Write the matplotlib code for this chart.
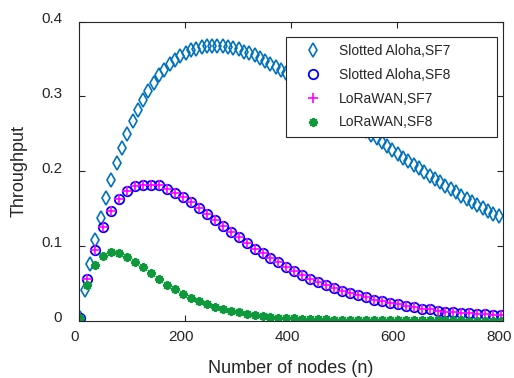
import numpy as np
import matplotlib
matplotlib.use("Agg")
import matplotlib.pyplot as plt
from matplotlib.transforms import ScaledTranslation

plt.rcParams['font.family'] = ['Liberation Sans', 'DejaVu Sans']

# number of nodes (sampling grids of the two curve families)
n_sf7 = np.arange(1, 800, 10)
n_sf8 = np.arange(1, 800, 15)

# Slotted Aloha, SF7
aloha_sf7 = [0.004, 0.041, 0.076, 0.108, 0.137, 0.164, 0.188, 0.211, 0.231, 0.250,
             0.267, 0.282, 0.295, 0.307, 0.318, 0.328, 0.336, 0.343, 0.349, 0.354,
             0.358, 0.362, 0.364, 0.366, 0.367, 0.368, 0.368, 0.367, 0.366, 0.365,
             0.363, 0.360, 0.358, 0.355, 0.351, 0.348, 0.344, 0.340, 0.335, 0.331,
             0.326, 0.322, 0.317, 0.312, 0.307, 0.302, 0.297, 0.291, 0.286, 0.281,
             0.275, 0.270, 0.265, 0.260, 0.254, 0.249, 0.244, 0.239, 0.233, 0.228,
             0.223, 0.218, 0.213, 0.208, 0.204, 0.199, 0.194, 0.190, 0.185, 0.180,
             0.176, 0.172, 0.167, 0.163, 0.159, 0.155, 0.151, 0.147, 0.143, 0.140]

# Slotted Aloha, SF8
aloha_sf8 = [0.004, 0.055, 0.095, 0.125, 0.147, 0.163, 0.174, 0.180, 0.182, 0.182,
             0.181, 0.176, 0.171, 0.165, 0.158, 0.150, 0.143, 0.135, 0.127, 0.119,
             0.112, 0.104, 0.096, 0.090, 0.084, 0.078, 0.072, 0.066, 0.061, 0.056,
             0.052, 0.047, 0.043, 0.040, 0.037, 0.034, 0.031, 0.028, 0.026, 0.024,
             0.022, 0.019, 0.018, 0.016, 0.015, 0.013, 0.012, 0.011, 0.010, 0.0095,
             0.009, 0.0085, 0.008, 0.007]

# LoRaWAN, SF7 (falls exactly on top of Slotted Aloha SF8)
lorawan_sf7 = list(aloha_sf8)

# LoRaWAN, SF8
lorawan_sf8 = [0.004, 0.047, 0.075, 0.087, 0.092, 0.091, 0.085, 0.078, 0.071, 0.063,
               0.056, 0.048, 0.042, 0.036, 0.030, 0.026, 0.022, 0.018, 0.015, 0.013,
               0.011, 0.009, 0.0075, 0.006, 0.005, 0.004, 0.0035, 0.003, 0.0025, 0.002,
               0.0017, 0.0014, 0.0012, 0.001, 0.0008, 0.0007, 0.0006, 0.0005, 0.0004, 0.0003,
               0.0003, 0.0002, 0.0002, 0.0002, 0.0001, 0.0001, 0.0001, 0.0001, 0.0001, 0.0,
               0.0, 0.0, 0.0, 0.0]

dark = '#262626'

fig = plt.figure(figsize=(5.14, 3.78), dpi=100)
ax = fig.add_axes([0.1537, 0.152, 0.8255, 0.7906])

ax.plot(n_sf7, aloha_sf7, ls='none', marker='d', ms=7.5, mfc='none', mec='#0072BD', mew=1.2,
        label='Slotted Aloha,SF7')
ax.plot(n_sf8, aloha_sf8, ls='none', marker='o', ms=6.8, mfc='none', mec='#0000FF', mew=1.3,
        label='Slotted Aloha,SF8')
ax.plot(n_sf8, lorawan_sf7, ls='none', marker='+', ms=6.5, mec='#FF00FF', mew=1.2,
        label='LoRaWAN,SF7')
ax.plot(n_sf8, lorawan_sf8, ls='none', marker=(8, 2, 0), ms=6.5, mec='#0E9A3C', mew=1.4,
        label='LoRaWAN,SF8')

ax.set_xlim(0, 800)
ax.set_ylim(0, 0.4)
ax.set_xticks([0, 200, 400, 600, 800])
ax.set_yticks([0, 0.1, 0.2, 0.3, 0.4])
ax.set_yticklabels(['0', '0.1', '0.2', '0.3', '0.4'])

ax.tick_params(direction='in', top=True, right=True, length=4, width=0.8,
               color=dark, labelcolor=dark, labelsize=11)
ax.tick_params(axis='x', pad=7)
ax.tick_params(axis='y', pad=12)
for s in ax.spines.values():
    s.set_color(dark)
    s.set_linewidth(0.8)

# small label shifts like the original export
for lab in ax.get_xticklabels():
    lab.set_transform(lab.get_transform() + ScaledTranslation(-0.04, 0, fig.dpi_scale_trans))
for lab in ax.get_yticklabels():
    lab.set_transform(lab.get_transform() + ScaledTranslation(0, 0.04, fig.dpi_scale_trans))

ax.set_xlabel('Number of nodes (n)', fontsize=13, color=dark, labelpad=11)
ax.set_ylabel('Throughput', fontsize=13, color=dark, labelpad=10)

leg = ax.legend(loc='upper left', bbox_to_anchor=(0.487, 0.613, 0.497, 0.337), mode='expand',
                fontsize=10, frameon=True, fancybox=False, framealpha=1,
                edgecolor=dark, borderpad=0.55, handlelength=2.8, handletextpad=0.5,
                labelspacing=0.7, borderaxespad=0)
leg.get_frame().set_linewidth(0.8)
for t in leg.get_texts():
    t.set_color(dark)

fig.savefig('out.png', dpi=100)
